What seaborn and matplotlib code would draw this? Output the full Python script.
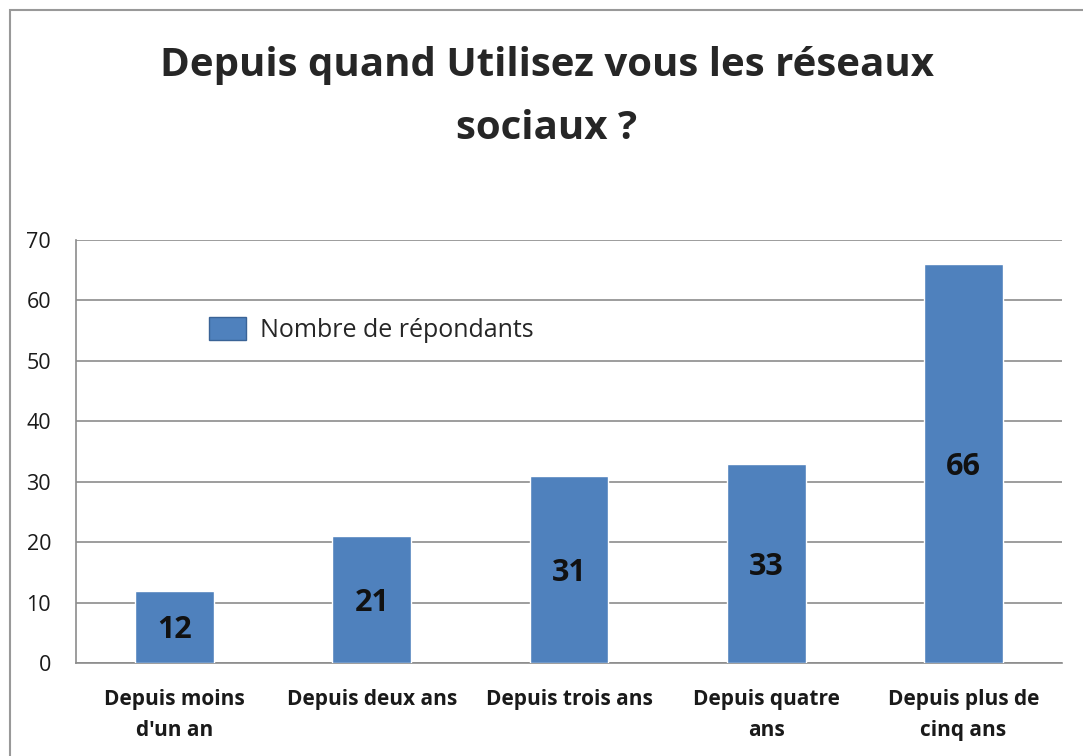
import numpy as np
import pandas as pd
import matplotlib
matplotlib.use('Agg')
import matplotlib.pyplot as plt
import seaborn as sns
from matplotlib.patches import Rectangle, Patch

# données
categories = ['Depuis moins\nd\'un an', 'Depuis deux ans', 'Depuis trois ans',
              'Depuis quatre\nans', 'Depuis plus de\ncinq ans']
repondants = [12, 21, 31, 33, 66]
serie = 'Nombre de répondants'
titre = 'Depuis quand Utilisez vous les réseaux\nsociaux ?'
yticks = [0, 10, 20, 30, 40, 50, 60, 70]

df = pd.DataFrame({'categorie': categories, 'valeur': repondants})

sns.set_style('white')
plt.rcParams['font.family'] = ['Open Sans', 'DejaVu Sans']

bleu = '#4F81BD'
gris = '#8C8C8C'

fig = plt.figure(figsize=(10.83, 7.56), dpi=100)
ax = fig.add_axes([0.0702, 0.123, 0.9104, 0.5595])

sns.barplot(data=df, x='categorie', y='valeur', color=bleu, width=0.4,
            saturation=1, ax=ax, zorder=3)

ax.set_xlim(-0.5, len(categories) - 0.5)
ax.set_ylim(0, 70)
ax.set_yticks(yticks)
ax.yaxis.grid(True, color=gris, linewidth=1.2, zorder=0)
ax.set_axisbelow(True)
ax.set_xlabel('')
ax.set_ylabel('')

for s in ['top', 'right']:
    ax.spines[s].set_visible(False)
for s in ['left', 'bottom']:
    ax.spines[s].set_color(gris)
    ax.spines[s].set_linewidth(1.2)

# ticks : labels au centre, traits aux limites de catégories
ax.set_xticks(range(len(categories)))
ax.set_xticklabels(categories, fontsize=15, fontweight='bold', linespacing=1.6,
                   color='#1a1a1a')
ax.set_xticks(np.arange(-0.5, len(categories)), minor=True)
ax.tick_params(axis='x', which='major', length=0, pad=19)
ax.tick_params(axis='x', which='minor', length=6, width=1.2, color=gris, direction='out')
ax.tick_params(axis='y', length=6, width=1.2, color=gris, direction='out',
               labelsize=15.5, pad=12, labelcolor='#1a1a1a')

# valeurs au milieu des barres
for i, v in enumerate(repondants):
    ax.text(i, v / 2, str(v), ha='center', va='center_baseline', fontsize=22,
            fontweight='bold', color='#111111', zorder=4)

ax.legend(handles=[Patch(facecolor=bleu, edgecolor='#3A6396', label=serie)],
          loc='center left', bbox_to_anchor=(0.112, 0.787), frameon=False,
          fontsize=18, handlelength=1.5, handleheight=1.0, handletextpad=0.55)

fig.text(0.505, 0.872, titre, ha='center', va='center', fontsize=29,
         fontweight='bold', linespacing=1.8)

# cadre extérieur
fig.patches.append(Rectangle((10 / 1083, -0.05), 1.2, 746 / 756 + 0.05,
                             transform=fig.transFigure, fill=False,
                             edgecolor='#999999', linewidth=1.5))

fig.savefig('out.png', dpi=100)
